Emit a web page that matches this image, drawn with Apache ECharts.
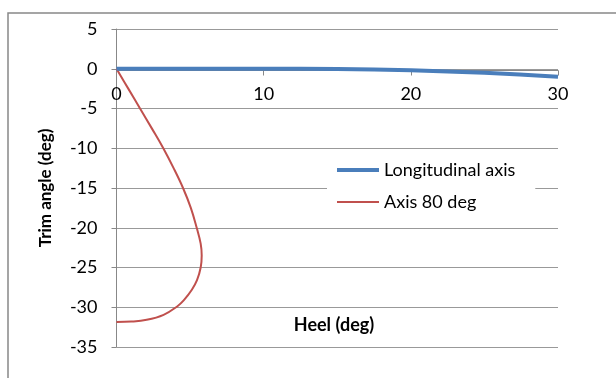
<!DOCTYPE html>
<html>
<head>
<meta charset="utf-8">
<script src="https://cdn.jsdelivr.net/npm/echarts@6/dist/echarts.min.js"></script>
<style>
html,body{margin:0;padding:0;background:#fff;}
#c{width:616px;height:378px;}
</style>
</head>
<body>
<div id="c"></div>
<script>
// Data
var seriesNames = ['Longitudinal axis', 'Axis 80 deg'];
var longitudinalHeel = [0, 5, 10, 15, 20, 25, 30];
var longitudinalTrim = [0, 0, 0, -0.02, -0.2, -0.5, -1.0];
var axis80Heel = [0, 0.8, 1.6, 2.4, 3.18, 3.88, 4.52, 5.05, 5.45, 5.72, 5.79, 5.72, 5.47, 5.12, 4.58, 4.12, 3.2, 2.05, 1.0, 0];
var axis80Trim = [0, -2.5, -5, -7.5, -10, -12.5, -15, -17.5, -20, -22, -23.5, -25, -26.6, -27.8, -29.1, -29.9, -30.95, -31.58, -31.8, -31.85];
var xTicks = [0, 10, 20, 30];
var yTicks = [5, 0, -5, -10, -15, -20, -25, -30, -35];

function pairs(xs, ys) { return xs.map(function (x, i) { return [x, ys[i]]; }); }

var font = 'Lato, "Open Sans", sans-serif';
var yMin = yTicks[yTicks.length - 1];
var chart = echarts.init(document.getElementById('c'), null, {renderer: 'canvas'});
var option = {
  backgroundColor: '#fff',
  animation: false,
  grid: {left: 116.5, right: 58, top: 29, bottom: 31, containLabel: false},
  xAxis: {
    type: 'value', min: xTicks[0], max: xTicks[xTicks.length - 1], interval: 10,
    position: 'bottom', offset: 0,
    axisLine: {show: true, onZero: false, lineStyle: {color: '#888', width: 1}},
    axisTick: {show: true, length: 5, lineStyle: {color: '#888'}},
    axisLabel: {color: '#000', fontFamily: font, fontSize: 18, margin: 15},
    splitLine: {show: false}
  },
  yAxis: {
    type: 'value', min: yMin, max: yTicks[0], interval: 5,
    axisLine: {show: true, onZero: false, lineStyle: {color: '#888', width: 1}},
    axisTick: {show: true, length: 5, lineStyle: {color: '#888'}},
    axisLabel: {color: '#000', fontFamily: font, fontSize: 18, margin: 19},
    splitLine: {show: true, lineStyle: {color: '#999', width: 1}}
  },
  legend: {
    left: 327, top: 155, orient: 'vertical',
    backgroundColor: '#fff', padding: [6, 20, 6, 10],
    itemWidth: 42, itemHeight: 14, itemGap: 14,
    textStyle: {color: '#000', fontFamily: font, fontSize: 18},
    data: [
      {name: seriesNames[0], icon: 'path://M0,0 M42,14 M0,5 L42,5 L42,9 L0,9 Z'},
      {name: seriesNames[1], icon: 'path://M0,0 M42,14 M0,6 L42,6 L42,8 L0,8 Z'}
    ]
  },
  graphic: [
    {type: 'rect', shape: {x: 8, y: 13, width: 800, height: 600}, style: {fill: 'none', stroke: '#888', lineWidth: 1.5}, silent: true, z: 100},
    {type: 'text', x: 334, y: 325, style: {text: 'Heel (deg)', fill: '#000', font: 'bold 18px ' + font, textAlign: 'center', textVerticalAlign: 'middle'}},
    {type: 'text', x: 46, y: 188, rotation: Math.PI / 2, style: {text: 'Trim angle (deg)', fill: '#000', font: 'bold 17px ' + font, textAlign: 'center', textVerticalAlign: 'middle'}}
  ],
  series: [
    {
      name: seriesNames[0], type: 'line', data: pairs(longitudinalHeel, longitudinalTrim),
      symbol: 'none', smooth: 0.2, z: 3,
      lineStyle: {color: '#4a7ebb', width: 4}, itemStyle: {color: '#4a7ebb'}
    },
    {
      name: seriesNames[1], type: 'line', data: pairs(axis80Heel, axis80Trim),
      symbol: 'none', smooth: 0.4, z: 2,
      lineStyle: {color: '#c0504d', width: 2}, itemStyle: {color: '#c0504d'}
    }
  ]
};
chart.setOption(option);
// Move the x axis up so it crosses the y axis at zero (like Excel's axis crossing)
var pZero = chart.convertToPixel({yAxisIndex: 0}, 0);
var pBottom = chart.convertToPixel({yAxisIndex: 0}, yMin);
chart.setOption({xAxis: {offset: -(pBottom - pZero)}});
</script>
</body>
</html>
